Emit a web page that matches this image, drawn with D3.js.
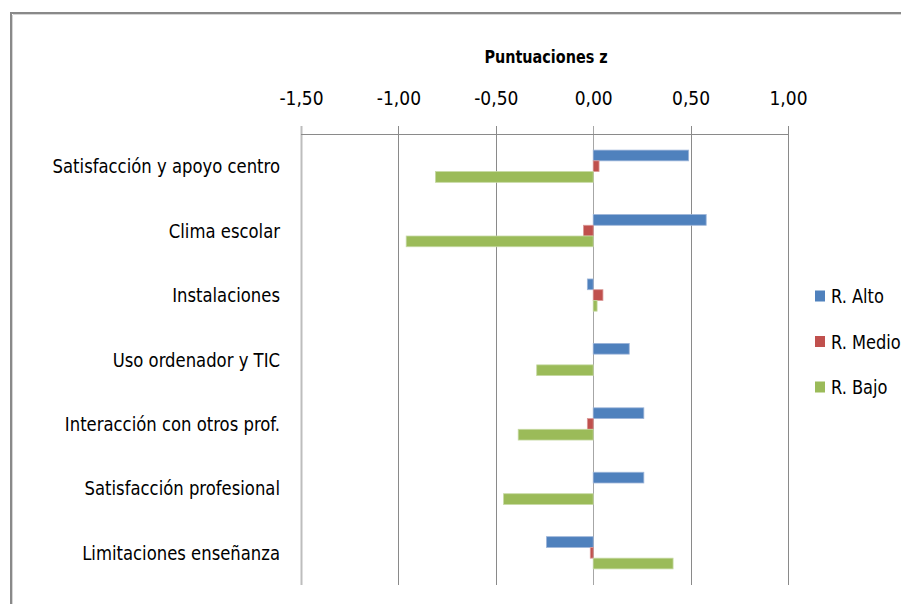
<!DOCTYPE html>
<html>
<head>
<meta charset="utf-8">
<script src="https://cdn.jsdelivr.net/npm/d3@7/dist/d3.min.js"></script>
<style>
  html, body { margin: 0; padding: 0; background: #fff; overflow: hidden; }
  svg { display: block; }
  text { font-family: "Liberation Sans Narrow", "Arial Narrow", "DejaVu Sans Condensed", sans-serif; fill: #000; }
</style>
</head>
<body>
<svg id="chart" width="901" height="604"></svg>
<script>
// Categories, top to bottom
const categories = [
  "Satisfacción y apoyo centro",
  "Clima escolar",
  "Instalaciones",
  "Uso ordenador y TIC",
  "Interacción con otros prof.",
  "Satisfacción profesional",
  "Limitaciones enseñanza"
];

// Series names and z-scores per category
const seriesNames = ["R. Alto", "R. Medio", "R. Bajo"];
const altoValues  = [0.49, 0.58, -0.03, 0.185, 0.26, 0.26, -0.24];
const medioValues = [0.03, -0.05, 0.05, 0.00, -0.03, 0.00, -0.015];
const bajoValues  = [-0.81, -0.96, 0.02, -0.29, -0.385, -0.46, 0.41];

const tickValues = [-1.5, -1.0, -0.5, 0, 0.5, 1.0];
const axisTitle = "Puntuaciones z";

const colors = ["#4F81BD", "#C0504D", "#9BBB59"];
const edgeColors = ["#9DB5D9", "#DB9A98", "#C6D9A3"];

// Horizontal squeeze applied to text for a narrow typeface look
const squeeze = 0.915;

const svg = d3.select("#chart");

// Outer chart frame
svg.append("rect")
  .attr("x", 11).attr("y", 13)
  .attr("width", 1000).attr("height", 1000)
  .attr("fill", "none")
  .attr("stroke", "#898989")
  .attr("stroke-width", 2);
svg.append("path")
  .attr("d", "M13,14.5H901M12.5,15V604")
  .attr("stroke", "#d6d6d6").attr("stroke-width", 1).attr("fill", "none");

const plot = { left: 301, right: 788, top: 134, bottom: 585 };

const x = d3.scaleLinear()
  .domain([-1.5, 1.0])
  .range([plot.left, plot.right]);

const y = d3.scaleBand()
  .domain(categories)
  .range([plot.top, plot.bottom])
  .paddingInner(0.5)
  .paddingOuter(0.25);

const ySeries = d3.scaleBand()
  .domain(seriesNames)
  .range([0, y.bandwidth()])
  .padding(0);

// Vertical gridlines (extend above the axis line as tick marks)
svg.append("g")
  .selectAll("line")
  .data(tickValues)
  .join("line")
  .attr("x1", d => Math.round(x(d)) + 0.5)
  .attr("x2", d => Math.round(x(d)) + 0.5)
  .attr("y1", plot.top - 8)
  .attr("y2", plot.bottom)
  .attr("stroke", d => d === -1.5 ? "#bdbdbd" : (d === 0 ? "#a6a6a6" : "#8a8a8a"))
  .attr("stroke-width", d => d === -1.5 ? 2 : 1);

// Top value axis line
svg.append("line")
  .attr("x1", plot.left).attr("x2", plot.right)
  .attr("y1", plot.top + 0.5).attr("y2", plot.top + 0.5)
  .attr("stroke", "#8a8a8a").attr("stroke-width", 1.2);

// Value axis labels (top)
const fmt = v => d3.format(".2f")(v).replace(".", ",").replace("−", "-");
const axisTop = d3.axisTop(x)
  .tickValues(tickValues)
  .tickFormat(fmt)
  .tickSize(0)
  .tickPadding(0);
const gAxis = svg.append("g")
  .attr("transform", `translate(0,105)`)
  .call(axisTop);
gAxis.select(".domain").remove();
gAxis.selectAll("text")
  .attr("dy", 0)
  .attr("transform", "scale(0.95,1)")
  .style("font-family", "\"Liberation Sans Narrow\", \"Arial Narrow\", \"DejaVu Sans Condensed\", sans-serif")
  .style("font-size", "20px")
  .attr("fill", "#000");

// Axis title
svg.append("text")
  .attr("transform", "translate(546,63) scale(0.89,1)")
  .attr("text-anchor", "middle")
  .style("font-size", "18px")
  .style("font-weight", "bold")
  .text(axisTitle);

// Category labels
const gCat = svg.append("g");
gCat.selectAll("text")
  .data(categories)
  .join("text")
  .attr("transform", d => `translate(280,${y(d) + y.bandwidth() / 2 + 7}) scale(${squeeze},1)`)
  .attr("text-anchor", "end")
  .style("font-size", "20px")
  .text(d => d);

// Bars
const seriesValues = [altoValues, medioValues, bajoValues];
const rows = [];
categories.forEach((c, i) => {
  seriesNames.forEach((s, j) => {
    rows.push({ cat: c, series: s, idx: j, value: seriesValues[j][i] });
  });
});

svg.append("g")
  .selectAll("rect")
  .data(rows.filter(d => d.value !== 0))
  .join("rect")
  .attr("x", d => Math.min(x(0), x(d.value)))
  .attr("width", d => Math.abs(x(d.value) - x(0)))
  .attr("y", d => y(d.cat) + ySeries(d.series))
  .attr("height", ySeries.bandwidth())
  .attr("fill", d => colors[d.idx])
  .attr("stroke", d => edgeColors[d.idx])
  .attr("stroke-width", 0.8);

// Legend
const legend = svg.append("g")
  .selectAll("g")
  .data(seriesNames)
  .join("g")
  .attr("transform", (d, i) => `translate(815,${296 + i * 45.5})`);
legend.append("rect")
  .attr("x", 0).attr("y", -5.5)
  .attr("width", 10).attr("height", 11)
  .attr("fill", (d, i) => colors[i]);
legend.append("text")
  .attr("transform", `translate(16,7) scale(0.95,1)`)
  .style("font-size", "19px")
  .text(d => d);
</script>
</body>
</html>
